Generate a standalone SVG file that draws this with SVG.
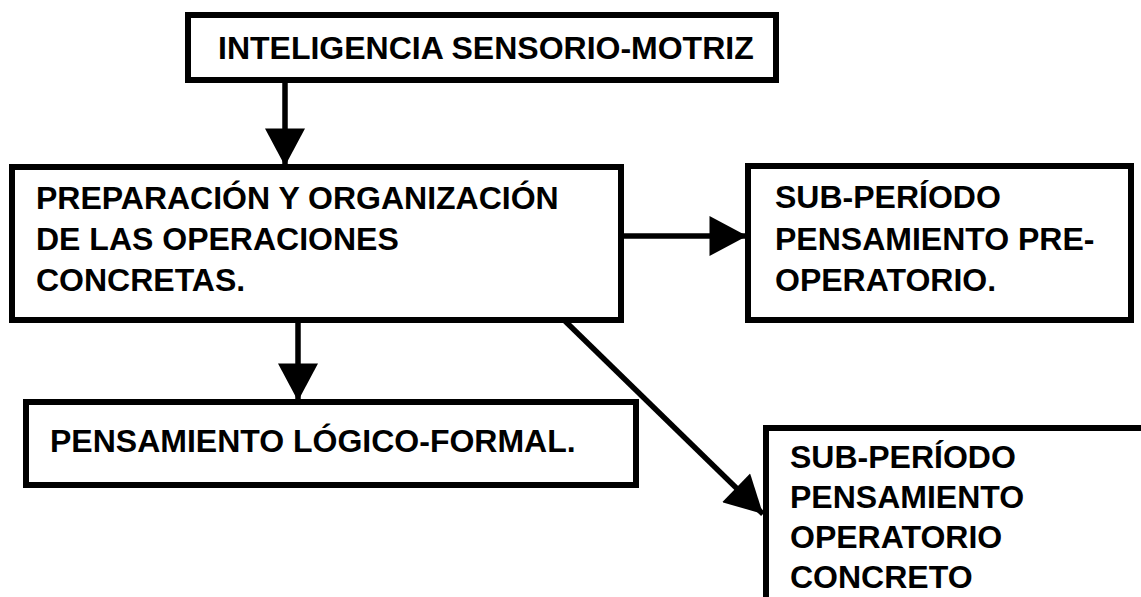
<svg xmlns="http://www.w3.org/2000/svg" width="1141" height="597" viewBox="0 0 1141 597">
<style>
.box{fill:#fff;stroke:#000;stroke-width:6}
.t{font-family:"Liberation Sans",Arial,sans-serif;font-weight:bold;font-size:32px;fill:#000}
.c{stroke:#000;stroke-width:5.5;fill:none}
</style>
<defs>
<marker id="ah" markerUnits="userSpaceOnUse" markerWidth="40" markerHeight="40" viewBox="0 0 30 32" refX="30" refY="16" orient="auto">
<path d="M0,0 L30,16 L0,32 Z" fill="#000"/>
</marker>
</defs>
<rect width="1141" height="597" fill="#fff"/>
<g id="connectors">
<line class="c" x1="285" y1="80" x2="285" y2="166" marker-end="url(#ah)"/>
<line class="c" x1="621" y1="236" x2="747" y2="236" marker-end="url(#ah)"/>
<line class="c" x1="298" y1="320" x2="298" y2="401" marker-end="url(#ah)"/>
<line class="c" x1="564" y1="320" x2="763" y2="514" marker-end="url(#ah)"/>
</g>
<g id="n1">
<rect class="box" x="188" y="15" width="588" height="65"/>
<text class="t" x="218" y="59">INTELIGENCIA SENSORIO-MOTRIZ</text>
</g>
<g id="n2">
<rect class="box" x="12" y="167" width="609" height="153"/>
<text class="t" x="36" y="209">PREPARACIÓN Y ORGANIZACIÓN</text>
<text class="t" x="36" y="250">DE LAS OPERACIONES</text>
<text class="t" x="36" y="291">CONCRETAS.</text>
</g>
<g id="n3">
<rect class="box" x="748" y="166" width="383" height="154"/>
<text class="t" x="775" y="208">SUB-PERÍODO</text>
<text class="t" x="775" y="250">PENSAMIENTO PRE-</text>
<text class="t" x="775" y="291">OPERATORIO.</text>
</g>
<g id="n4">
<rect class="box" x="26" y="402" width="610" height="83"/>
<text class="t" x="50" y="452">PENSAMIENTO LÓGICO-FORMAL.</text>
</g>
<g id="n5">
<rect class="box" x="766" y="428" width="400" height="200"/>
<text class="t" x="790" y="468">SUB-PERÍODO</text>
<text class="t" x="790" y="508">PENSAMIENTO</text>
<text class="t" x="790" y="548">OPERATORIO</text>
<text class="t" x="790" y="588">CONCRETO</text>
</g>
</svg>
